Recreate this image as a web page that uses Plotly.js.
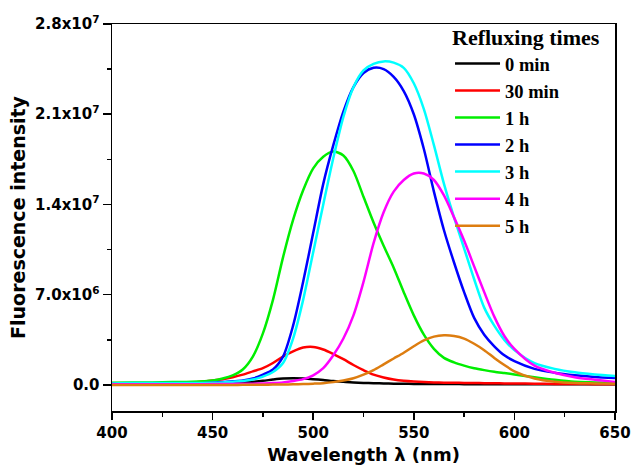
<!DOCTYPE html>
<html>
<head>
<meta charset="utf-8">
<script src="https://cdn.plot.ly/plotly-3.0.1.min.js"></script>
<style>html,body{margin:0;padding:0;background:#fff;}#chart{width:631px;height:465px;}</style>
</head>
<body>
<div id="chart"></div>
<script>
// Wavelength (nm)
var wavelength = [400,410,420,430,440,450,455,460,465,470,475,480,485,490,495,500,505,510,515,520,525,530,535,540,545,550,555,560,565,570,575,580,585,590,595,600,610,620,630,640,650];

// Fluorescence intensity, in units of 10^6
var min0 = [0.1,0.1,0.1,0.1,0.1,0.12,0.13,0.15,0.2,0.25,0.32,0.42,0.5,0.52,0.5,0.45,0.38,0.3,0.24,0.2,0.16,0.13,0.12,0.1,0.09,0.08,0.08,0.07,0.07,0.07,0.06,0.06,0.06,0.06,0.06,0.05,0.05,0.05,0.05,0.05,0.05];
var min30 = [0.1,0.12,0.13,0.15,0.2,0.35,0.45,0.6,0.8,1.05,1.3,1.7,2.2,2.6,2.9,2.95,2.75,2.4,2.0,1.55,1.15,0.8,0.58,0.42,0.32,0.26,0.22,0.2,0.18,0.17,0.16,0.15,0.14,0.13,0.12,0.11,0.1,0.08,0.07,0.06,0.05];
var h1 = [0.18,0.2,0.2,0.22,0.25,0.35,0.5,0.75,1.2,2.2,4.0,6.6,9.9,12.8,15.1,16.8,17.7,18.1,17.8,16.6,14.6,12.6,10.8,9.1,7.2,5.4,3.9,2.8,2.1,1.75,1.5,1.3,1.15,1.02,0.92,0.82,0.6,0.4,0.25,0.2,0.15];
var h2 = [0.1,0.12,0.12,0.12,0.13,0.18,0.22,0.28,0.35,0.5,0.8,1.2,2.2,4.6,8.0,11.8,15.6,18.6,21.2,23.1,24.2,24.6,24.5,23.9,22.8,21.0,18.3,15.0,12.0,9.5,7.2,5.2,3.9,3.0,2.3,1.85,1.25,0.95,0.75,0.62,0.54];
var h3 = [0.12,0.15,0.15,0.15,0.15,0.17,0.2,0.25,0.3,0.42,0.65,1.0,1.7,3.6,6.6,10.3,14.0,17.6,20.8,23.1,24.4,24.9,25.1,25.0,24.6,23.4,21.4,18.6,15.6,13.0,10.6,8.2,6.0,4.6,3.5,2.7,1.7,1.25,0.98,0.82,0.7];
var h4 = [0.05,0.05,0.05,0.05,0.06,0.07,0.08,0.08,0.09,0.1,0.12,0.15,0.2,0.3,0.45,0.75,1.3,2.3,3.6,5.4,8.0,11.0,13.4,15.0,15.9,16.4,16.4,15.9,14.7,13.0,11.2,9.2,7.2,5.3,3.8,2.8,1.5,0.95,0.6,0.4,0.23];
var h5 = [0,0,0,0,0,0,0,0,0.01,0.01,0.02,0.03,0.04,0.05,0.07,0.1,0.14,0.22,0.34,0.52,0.8,1.15,1.6,2.05,2.5,3.0,3.45,3.75,3.85,3.8,3.6,3.2,2.7,2.1,1.55,1.05,0.5,0.25,0.15,0.12,0.1];

var seriesNames = ['0 min','30 min','1 h','2 h','3 h','4 h','5 h'];
var seriesValues = [min0, min30, h1, h2, h3, h4, h5];
var seriesColors = ['#000000','#ff0000','#00ee00','#0000ff','#00ffff','#ff00ff','#dd7d10'];

var yTickVals = [0, 7, 14, 21, 28];
var yTickText = ['0.0','7.0x10<sup>6</sup>','1.4x10<sup>7</sup>','2.1x10<sup>7</sup>','2.8x10<sup>7</sup>'];
var yMinorVals = [3.5, 10.5, 17.5, 24.5];
var xTickVals = [400,450,500,550,600,650];

var traces = seriesNames.map(function(n, i){
  return {x: wavelength, y: seriesValues[i], name: n, type: 'scatter', mode: 'lines',
    line: {color: seriesColors[i], width: 2.5, shape: 'spline', smoothing: 0.8}};
});

var axisFont = {family: 'DejaVu Sans', size: 15, color: '#000', weight: 'bold'};
var layout = {
  width: 631, height: 465,
  margin: {l: 112, r: 16, t: 24, b: 54},
  paper_bgcolor: '#fff', plot_bgcolor: '#fff',
  showlegend: true,
  xaxis: {
    range: [400, 650], tickmode: 'array', tickvals: xTickVals,
    ticks: 'outside', ticklen: 7, tickwidth: 1.5, tickcolor: '#000',
    minor: {dtick: 25, tick0: 400, ticks: 'outside', ticklen: 4, tickwidth: 1.5, tickcolor: '#000', showgrid: false},
    showline: true, linewidth: 1.5, linecolor: '#000', mirror: true,
    showgrid: false, zeroline: false, tickfont: axisFont, ticklabelstandoff: 0,
    title: {text: 'Wavelength λ (nm)', font: {family: 'DejaVu Sans', size: 18, color: '#000', weight: 'bold'}, standoff: 9}
  },
  yaxis: {
    range: [-2.02, 28], tickmode: 'array', tickvals: yTickVals, ticktext: yTickText,
    ticks: 'outside', ticklen: 8, tickwidth: 1.5, tickcolor: '#000',
    minor: {tickmode: 'array', tickvals: yMinorVals, ticks: 'outside', ticklen: 4, tickwidth: 1.5, tickcolor: '#000', showgrid: false},
    showline: true, linewidth: 1.5, linecolor: '#000', mirror: true,
    showgrid: false, zeroline: false, tickfont: axisFont,
    title: {text: 'Fluorescence intensity', font: {family: 'DejaVu Sans', size: 19, color: '#000', weight: 'bold'}, standoff: 4}
  },
  legend: {
    x: 0.672, xanchor: 'left', y: 1.02, yanchor: 'top',
    bgcolor: 'rgba(0,0,0,0)', borderwidth: 0, itemwidth: 45,
    font: {family: 'Liberation Serif', size: 18.5, color: '#000', weight: 'bold'},
    title: {text: 'Refluxing times', font: {family: 'Liberation Serif', size: 22, color: '#000', weight: 'bold'}},
    tracegroupgap: 0
  }
};

Plotly.newPlot('chart', traces, layout, {displayModeBar: false, staticPlot: true});
</script>
</body>
</html>
